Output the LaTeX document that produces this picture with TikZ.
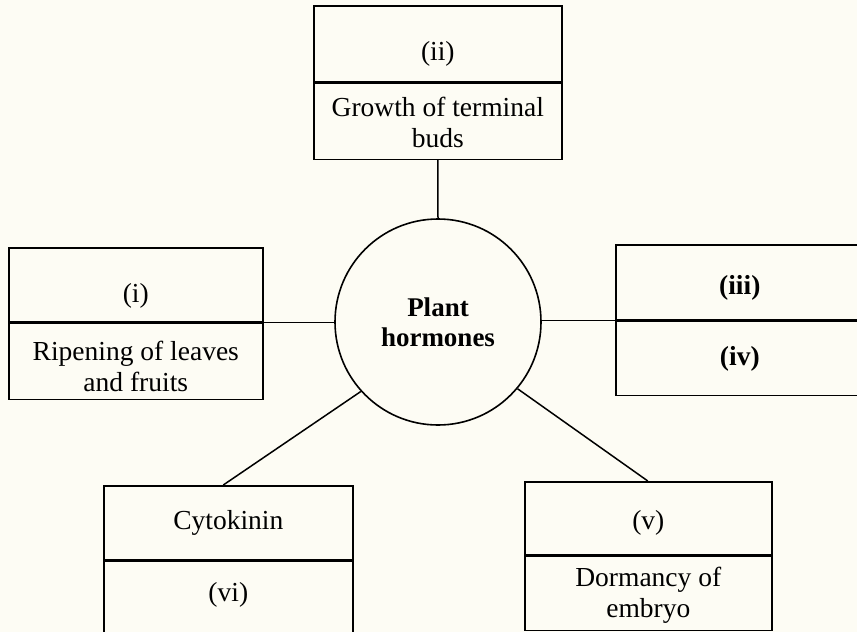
\documentclass[tikz,border=0pt]{standalone}
\usepackage{fontspec}
\setmainfont{Liberation Serif}
\usetikzlibrary{calc}
\definecolor{paper}{HTML}{FDFCF4}
\tikzset{
  sec/.style={draw=black, line width=1.6pt, rectangle, anchor=north west, inner sep=0pt, minimum width=#1},
  lbl/.style={inner sep=0pt, align=center, font=\fontsize{27.5}{31}\selectfont},
  hub/.style={draw=black, line width=1.6pt, circle, minimum size=206pt, inner sep=0pt, align=center, font=\fontsize{27}{30}\selectfont\bfseries},
  link/.style={draw=black, line width=1.5pt},
}
\begin{document}
\begin{tikzpicture}[x=1pt, y=-1pt]
\fill[paper] (0,0) rectangle (857,632);
\useasboundingbox (0,0) rectangle (857,632);
\clip (0,0) rectangle (857,632);

% centre
\node[hub] (c) at (438,322) {Plant\\hormones};

% top box
\node[sec=248pt, minimum height=76pt] (t1) at (313,5) {};
\node[sec=248pt, minimum height=76pt, anchor=north] (t2) at (t1.south) {};
\node[lbl] (t1x) at ([yshift=-10pt]t1.center) {(ii)};
\node[lbl] (t2x) at ([yshift=-1pt]t2.center) {Growth of terminal\\buds};

% left box
\node[sec=254pt, minimum height=74pt] (l1) at (8,247) {};
\node[sec=254pt, minimum height=76pt, anchor=north] (l2) at (l1.south) {};
\node[lbl] (l1x) at ([yshift=-11pt]l1.center) {(i)};
\node[lbl] (l2x) at ([yshift=-5pt]l2.center) {Ripening of leaves\\and fruits};

% right box
\node[sec=248pt, minimum height=75pt] (r1) at (615,244) {};
\node[sec=248pt, minimum height=74pt, anchor=north] (r2) at (r1.south) {};
\node[lbl, font=\fontsize{27.5}{31}\selectfont\bfseries] (r1x) at ([yshift=-6pt]r1.center) {(iii)};
\node[lbl, font=\fontsize{27.5}{31}\selectfont\bfseries] (r2x) at ([yshift=0pt]r2.center) {(iv)};

% bottom-left box
\node[sec=249pt, minimum height=74pt] (b1) at (103,485) {};
\node[sec=249pt, minimum height=84pt, anchor=north] (b2) at (b1.south) {};
\node[lbl] (b1x) at (b1.center) {Cytokinin};
\node[lbl] (b2x) at ([yshift=-34pt]b1.south) {(vi)};

% bottom-right box
\node[sec=247pt, minimum height=73pt] (d1) at (524,481) {};
\node[sec=247pt, minimum height=74pt, anchor=north] (d2) at (d1.south) {};
\node[lbl] (d1x) at ([yshift=-5pt]d1.center) {(v)};
\node[lbl] (d2x) at ([yshift=-2pt]d2.center) {Dormancy of\\embryo};

% connectors
\draw[link] (t2.south) -- (c.north);
\draw[link] (l1.south east) -- (c.west |- l1.south east);
\draw[link] (c.east |- r1.south west) -- (r1.south west);
\draw[link] (c.222) -- ($(b1.north west)!0.48!(b1.north east)$);
\draw[link] (c.-40) -- ($(d1.north west)!0.498!(d1.north east)$);
\end{tikzpicture}
\end{document}
